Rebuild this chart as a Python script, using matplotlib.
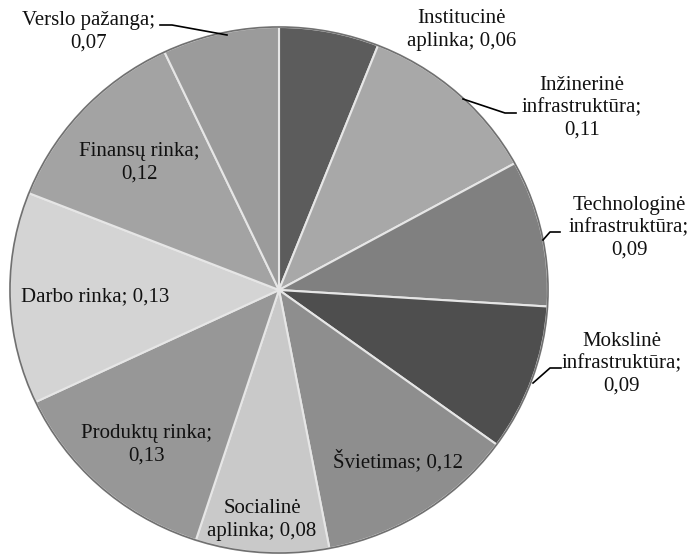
import matplotlib
matplotlib.use("Agg")
import matplotlib.pyplot as plt

# ---- data ----
categories = ["Institucinė\naplinka", "Inžinerinė\ninfrastruktūra", "Technologinė\ninfrastruktūra",
              "Mokslinė\ninfrastruktūra", "Švietimas", "Socialinė\naplinka", "Produktų rinka",
              "Darbo rinka", "Finansų rinka", "Verslo pažanga"]
values = [0.06, 0.11, 0.09, 0.09, 0.12, 0.08, 0.13, 0.13, 0.12, 0.07]
separators = ["; ", ";\n", ";\n", ";\n", "; ", "; ", ";\n", "; ", ";\n", ";\n"]

# ---- style / layout ----
colors = ["#5c5c5c", "#a8a8a8", "#808080", "#4e4e4e", "#8e8e8e",
          "#c9c9c9", "#979797", "#d4d4d4", "#a3a3a3", "#9b9b9b"]
W, H = 695, 559
RX, RY = 269, 263          # horizontal / vertical pixel radius (slightly squashed pie)
SY = RX / RY               # y data units per pixel
def P(x, y):
    return (x, (H - y) * SY)

label_pos = [(462, 30), (582, 108), (629, 228), (622, 364), (398, 461),
             (262, 520), (147, 445), (95, 297), (139, 163), (89, 32)]
leaders = {1: [(463, 99), (505, 113), (516, 113)],
           2: [(543, 240), (550, 232), (560, 232)],
           3: [(533, 383), (550, 368), (561, 368)],
           9: [(160, 25), (172, 25), (227, 35)]}

plt.rcParams['font.family'] = ['Liberation Serif', 'DejaVu Serif']
fig = plt.figure(figsize=(W / 100, H / 100), dpi=100)
ax = fig.add_axes([0, 0, 1, 1])

cx, cy = P(279, 290)
wedges, _ = ax.pie(values, colors=colors, startangle=90, counterclock=False,
                   center=(cx, cy), radius=RX, frame=True,
                   wedgeprops=dict(edgecolor='#e6e6e6', linewidth=1.5))
ax.set_aspect('auto')
ax.set_xlim(0, W)
ax.set_ylim(0, H * SY)
ax.axis('off')
circ = plt.Circle((cx, cy), RX, fill=False, edgecolor='#707070', linewidth=1.2)
ax.add_patch(circ)

for i, (cat, v) in enumerate(zip(categories, values)):
    txt = cat + separators[i] + f"{v:.2f}".replace('.', ',')
    x, y = P(*label_pos[i])
    ax.text(x, y, txt, ha='center', va='center', fontsize=15,
            color='#111111', linespacing=1.25)

for i, pts in leaders.items():
    xs = [P(*p)[0] for p in pts]
    ys = [P(*p)[1] for p in pts]
    ax.plot(xs, ys, color='black', linewidth=1.2)

fig.savefig("out.png", dpi=100, facecolor='white')
